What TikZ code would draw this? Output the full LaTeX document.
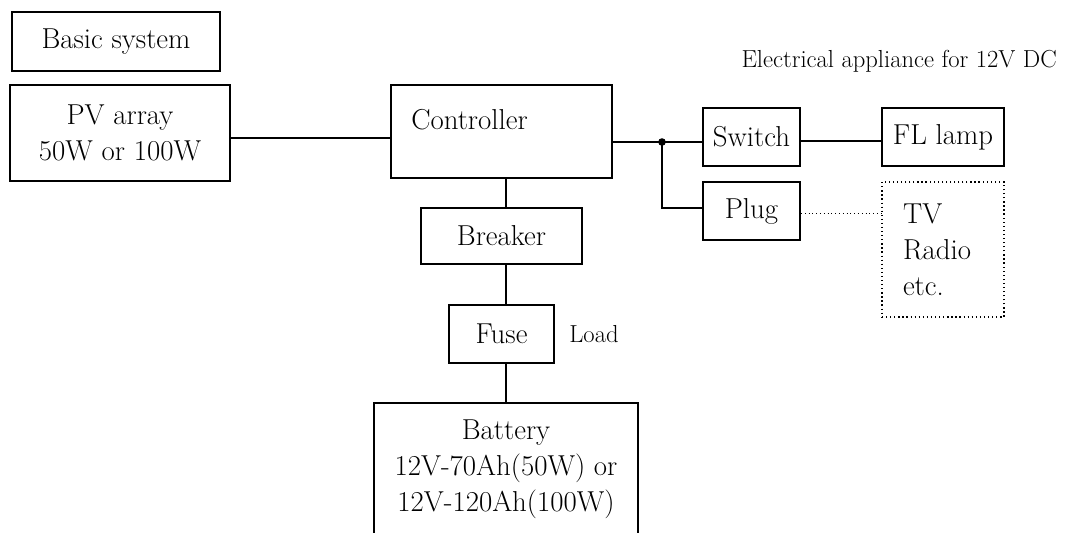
\documentclass[tikz,border=0pt]{standalone}
\usetikzlibrary{positioning}
\newcommand\boxfont{\fontsize{20.5}{25.5}\selectfont}
\newcommand\notefont{\fontsize{17.5}{21}\selectfont}
\begin{document}
\begin{tikzpicture}[x=0.025cm, y=-0.025cm,
    box/.style={draw=black, line width=1.4pt, inner sep=0pt, align=center, font=\boxfont},
    loadbox/.style={draw=black, line width=0.9pt, dotted, inner sep=0pt, font=\boxfont},
    wire/.style={draw=black, line width=1.4pt},
    plugwire/.style={draw=black, line width=0.7pt, dotted},
    note/.style={inner sep=0pt, font=\notefont}]

    \useasboundingbox (0,0) rectangle (1066,533);

    % Title and heading
    \node[box, minimum width=5.2cm, minimum height=1.475cm] (basic) at (116,41.5) {Basic system};
    \node[note, anchor=base east] (appliance) at (1057,67) {Electrical appliance for 12V DC};

    % Draw the PV array and the controller
    \node[box, minimum width=5.5cm, minimum height=2.4cm] (pv) at (120,133) {PV array\\50W or 100W};
    \node[box, minimum width=5.525cm, minimum height=2.325cm] (ctrl) at (501.5,131.5) {};
    \node[inner sep=0pt, font=\boxfont, anchor=west] (ctrltext) at ([shift={(21,-11.5)}]ctrl.west) {Controller};

    % Draw the breaker, the fuse and the battery
    \node[box, minimum width=4.025cm, minimum height=1.4cm] (breaker) at (501.5,236) {Breaker};
    \node[box, minimum width=2.625cm, minimum height=1.45cm] (fuse) at (501.5,334) {Fuse};
    \node[note, right=0.35cm of fuse] (load) {Load};
    \node[box, anchor=north, minimum width=6.6cm, inner ysep=0.42cm, text depth=1cm] (battery) at (506,402)
        {Battery\\12V-70Ah(50W) or\\12V-120Ah(100W)};

    % Draw the load side
    \node[box, minimum width=2.425cm, minimum height=1.45cm] (switch) at (751.5,137) {Switch};
    \node[box, minimum width=2.425cm, minimum height=1.45cm] (plug) at (751.5,211) {Plug};
    \node[box, minimum width=3.05cm, minimum height=1.45cm] (lamp) at (943,137) {FL lamp};
    \node[loadbox, align=left, text width=2cm, inner xsep=0.525cm, minimum width=3.05cm, minimum height=3.375cm] (tv) at (943,249.5)
        {TV\\Radio\\etc.};

    % Draw the wiring
    \coordinate (jn) at (662,142);
    \draw[wire] ([yshift=-3.5pt]pv.east) -- ([yshift=-3.5pt]pv.east -| ctrl.west);
    \draw[wire] (ctrl.south -| battery.north) -- (breaker.north -| battery.north);
    \draw[wire] (breaker.south -| battery.north) -- (fuse.north -| battery.north);
    \draw[wire] (fuse.south -| battery.north) -- (battery.north);
    \draw[wire] (ctrl.east |- jn) -- (switch.west |- jn);
    \draw[wire] (jn) |- ([yshift=2pt]plug.west);
    \fill (jn) circle (2.7pt);
    \draw[wire] ([yshift=-2.5pt]switch.east) -- ([yshift=-2.5pt]switch.east -| lamp.west);
    \draw[plugwire] ([yshift=-2pt]plug.east) -- ([yshift=-2pt]plug.east -| tv.west);

\end{tikzpicture}
\end{document}
